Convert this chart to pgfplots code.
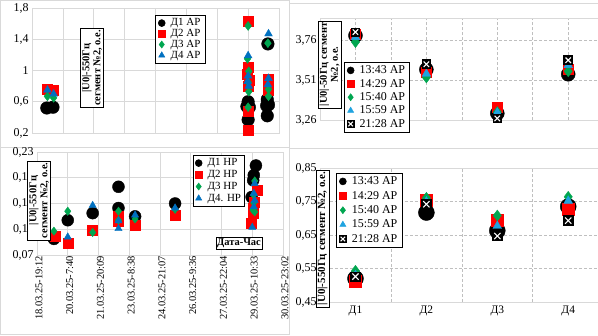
\documentclass[border=0pt]{standalone}
\usepackage{fontspec}
\setmainfont{Liberation Serif}
\usepackage{pgfplots}
\pgfplotsset{compat=1.18}

\definecolor{mred}{HTML}{FF0000}
\definecolor{mgreen}{HTML}{00A650}
\definecolor{mblue}{HTML}{0070C0}
\definecolor{lblue}{HTML}{1FA3E0}
\definecolor{gridc}{HTML}{D9D9D9}
\definecolor{gridd}{HTML}{BFBFBF}

\pgfdeclareplotmark{sqx}{%
  \pgfpathrectangle{\pgfpoint{-\pgfplotmarksize}{-\pgfplotmarksize}}{\pgfpoint{2\pgfplotmarksize}{2\pgfplotmarksize}}%
  \pgfsetfillcolor{black}\pgfsetstrokecolor{black}\pgfusepathqfillstroke
  \pgfsetstrokecolor{white}\pgfsetlinewidth{1.1pt}%
  \pgfpathmoveto{\pgfpoint{-0.65\pgfplotmarksize}{-0.65\pgfplotmarksize}}%
  \pgfpathlineto{\pgfpoint{0.65\pgfplotmarksize}{0.65\pgfplotmarksize}}%
  \pgfpathmoveto{\pgfpoint{-0.65\pgfplotmarksize}{0.65\pgfplotmarksize}}%
  \pgfpathlineto{\pgfpoint{0.65\pgfplotmarksize}{-0.65\pgfplotmarksize}}%
  \pgfusepathqstroke
}

\pgfplotsset{
  common/.style={
    scale only axis, anchor=south west,
    axis line style={draw=gridc},
    tick style={draw=none},
    /pgf/number format/use comma,
    /pgf/number format/assume math mode=true,
    yticklabel style={font=\fontsize{12}{12}\selectfont},
    legend cell align=left,
    legend style={draw=black, line width=0.5pt, fill=white, anchor=north west,
      font=\fontsize{11}{11}\selectfont, inner xsep=3pt, inner ysep=2pt, row sep=-1pt,
      nodes={inner sep=1.5pt},
      /tikz/every odd column/.append style={column sep=4bp}},
    legend image post style={mark size=3.5bp},
  },
  pD1/.style={only marks, mark=*, mark options={fill=black, draw=black}},
  pD2/.style={only marks, mark=square*, mark options={fill=mred, draw=mred}},
  pD3/.style={only marks, mark=diamond*, mark options={fill=mgreen, draw=mgreen}},
  pD4/.style={only marks, mark=triangle*, mark options={fill=mblue, draw=mblue}},
  pD4l/.style={only marks, mark=triangle*, mark options={fill=lblue, draw=lblue}},
  pX/.style={only marks, mark=sqx},
}

\begin{document}
\begin{tikzpicture}[x=1bp,y=1bp]
\useasboundingbox (0,0) rectangle (598,335);
\draw[gridc] (0.5,188) rectangle (289,334.5);
\draw[gridc] (0.5,0.5) rectangle (289,188);
\draw[gridc] (289,332.3) -- (598,332.3);
\draw[gridc] (289,187) -- (598,187);

% ---------- top left ----------
\begin{axis}[common, at={(32bp,202bp)}, width=247bp, height=125bp,
  xmin=0, xmax=8, ymin=0.2, ymax=1.8,
  xtick={0,...,8}, xticklabels={}, ytick={0.2,0.6,1,1.4,1.8},
  grid=major, grid style={draw=gridc, line width=0.6pt},
  legend style={at={(axis description cs:0.498,0.944)}}]
\addplot[pD1, mark size=6.3bp] coordinates {(0.48,0.52) (0.68,0.53) (7.00,0.60) (6.96,0.54) (7.04,0.53) (7.00,0.37) (7.64,1.34) (7.62,0.63) (7.66,0.56) (7.60,0.55) (7.62,0.42)};
\addlegendentry{Д1 АР}
\addplot[pD2, mark size=5bp] coordinates {(0.50,0.76) (0.70,0.75) (7.00,1.63) (7.00,1.04) (6.98,0.95) (7.02,0.88) (7.00,0.80) (7.00,0.48) (7.00,0.24) (7.65,0.89) (7.65,0.82) (7.65,0.75)};
\addlegendentry{Д2 АР}
\addplot[pD3, mark size=4.5bp] coordinates {(0.50,0.67) (0.70,0.65) (7.00,1.57) (6.98,1.15) (7.02,0.99) (7.00,0.85) (7.02,0.73) (7.00,0.53) (7.64,1.35) (7.66,0.76) (7.66,0.67)};
\addlegendentry{Д3 АР}
\addplot[pD4, mark size=4.5bp] coordinates {(0.50,0.75) (0.70,0.70) (7.00,1.19) (7.00,0.93) (6.98,0.86) (7.02,0.80) (7.66,1.47) (7.66,0.90) (7.64,0.82)};
\addlegendentry{Д4 АР}
\end{axis}

% ---------- bottom left ----------
\begin{axis}[common, at={(37bp,80bp)}, width=246bp, height=103bp,
  xmin=0, xmax=8, ymin=0.07, ymax=0.23,
  xtick={0,...,8},
  xticklabels={18.03.25-19:12,20.03.25-7:40,21.03.25-20:09,23.03.25-8:38,24.03.25-21:07,26.03.25-9:36,27.03.25-22:04,29.03.25-10:33,30.03.25-23:02},
  xticklabel style={rotate=90, anchor=east, font=\fontsize{10.5}{10.5}\selectfont, xshift=2.5bp, yshift=-2bp},
  ytick={0.07,0.11,0.15,0.19,0.23},
  yticklabel style={/pgf/number format/.cd, fixed, fixed zerofill, precision=2},
  grid=major, grid style={draw=gridc, line width=0.6pt},
  legend style={at={(axis description cs:0.634,0.971)}, row sep=0pt, inner xsep=2pt}]
\addplot[pD1, mark size=6bp] coordinates {(0.55,0.095) (1.00,0.124) (1.81,0.135) (2.65,0.176) (2.65,0.143) (3.19,0.130) (4.49,0.150) (7.12,0.209) (7.05,0.194) (7.03,0.186) (6.98,0.160)};
\addlegendentry{Д1 НР}
\addplot[pD2, mark size=5bp] coordinates {(0.60,0.099) (1.00,0.088) (1.81,0.109) (2.65,0.131) (2.65,0.122) (3.19,0.116) (4.49,0.132) (7.15,0.171) (7.05,0.152) (7.02,0.143) (7.02,0.135) (6.98,0.120)};
\addlegendentry{Д2 НР}
\addplot[pD3, mark size=4.2bp] coordinates {(0.55,0.107) (1.00,0.138) (1.81,0.105) (2.65,0.138) (2.65,0.124) (3.19,0.126) (4.49,0.141) (7.08,0.185) (7.05,0.163) (7.05,0.151) (7.02,0.140) (7.08,0.137)};
\addlegendentry{Д3 НР}
\addplot[pD4, mark size=4.2bp] coordinates {(1.00,0.098) (1.81,0.147) (2.65,0.123) (2.65,0.111) (3.19,0.132) (4.49,0.143) (7.08,0.181) (7.05,0.166) (7.08,0.155) (7.05,0.145) (7.00,0.113)};
\addlegendentry{Д4. НР}
\end{axis}

% ---------- top right ----------
\begin{axis}[common, at={(320bp,215bp)}, width=278bp, height=102bp,
  xmin=0.5, xmax=4.42, ymin=3.26, ymax=3.9,
  xtick={1,1.5,...,4}, xticklabels={}, ytick={3.26,3.51,3.76},
  yticklabel style={/pgf/number format/.cd, fixed, fixed zerofill, precision=2},
  grid=major, grid style={draw=gridd, densely dashed, line width=0.6pt},
  legend style={at={(axis description cs:0.086,0.569)}, font=\fontsize{12}{12}\selectfont, row sep=1pt}]
\addplot[pD1, mark size=7bp] coordinates {(1,3.79) (2,3.577) (3,3.302) (4,3.547)};
\addlegendentry{13:43 АР}
\addplot[pD2, mark size=5bp] coordinates {(1,3.797) (2,3.562) (3,3.343) (4,3.58)};
\addlegendentry{14:29 АР}
\addplot[pD3, mark size=5.5bp] coordinates {(1,3.749) (2,3.527) (3,3.31) (4,3.566)};
\addlegendentry{15:40 АР}
\addplot[pD4l, mark size=5bp] coordinates {(1,3.78) (2,3.55) (3,3.306) (4,3.604)};
\addlegendentry{15:59 АР}
\addplot[pX, mark size=4.2bp] coordinates {(1,3.812) (2,3.61) (3,3.27) (4,3.635)};
\addlegendentry{21:28 АР}
\end{axis}

% ---------- bottom right ----------
\begin{axis}[common, at={(320bp,33bp)}, width=278bp, height=134bp,
  xmin=0.5, xmax=4.42, ymin=0.45, ymax=0.85,
  xtick={1,2,3,4}, xticklabels={Д1,Д2,Д3,Д4},
  xticklabel style={font=\fontsize{11.5}{11.5}\selectfont},
  minor xtick={1.5,2.5,3.5},
  ytick={0.45,0.55,0.65,0.75,0.85},
  yticklabel style={/pgf/number format/.cd, fixed, fixed zerofill, precision=2},
  ymajorgrids, xminorgrids,
  major grid style={draw=gridd, densely dashed, line width=0.6pt},
  minor grid style={draw=gridd, densely dashed, line width=0.6pt},
  legend style={at={(axis description cs:0.058,0.963)}, font=\fontsize{12}{12}\selectfont, row sep=2pt}]
\addplot[pD1, mark size=8bp] coordinates {(1,0.52) (2,0.717) (3,0.663) (4,0.735)};
\addlegendentry{13:43 АР}
\addplot[pD2, mark size=6bp] coordinates {(1,0.511) (2,0.754) (3,0.693) (4,0.727)};
\addlegendentry{14:29 АР}
\addplot[pD3, mark size=5.5bp] coordinates {(1,0.543) (2,0.761) (3,0.708) (4,0.764)};
\addlegendentry{15:40 АР}
\addplot[pD4l, mark size=5bp] coordinates {(1,0.53) (2,0.75) (3,0.677) (4,0.752)};
\addlegendentry{15:59 АР}
\addplot[pX, mark size=4.8bp] coordinates {(1,0.526) (2,0.742) (3,0.647) (4,0.693)};
\addlegendentry{21:28 АР}
\end{axis}

% ---------- label boxes ----------
\node[draw=black, fill=white, rotate=90, align=center, inner sep=1.5pt,
  font=\bfseries\fontsize{10.5}{11}\selectfont] at (92,267) {|U0|-550Гц\\сегмент №2, о.е.};
\node[draw=black, fill=white, rotate=90, align=center, inner sep=1.5pt,
  font=\bfseries\fontsize{10.5}{11}\selectfont] at (39,134.5) {|U0|-550Гц\\сегмент №2, о.е.};
\node[draw=black, fill=white, rotate=90, align=center, inner sep=1.5pt,
  font=\bfseries\fontsize{10.5}{11}\selectfont] at (329.5,270.5) {|U0|-50Гц сегмент\\№2, о.е.};
\node[draw=black, fill=white, rotate=90, align=center, inner sep=1.5pt,
  font=\bfseries\fontsize{11}{11}\selectfont] at (322.5,96.5) {|U0|-550Гц сегмент №2, о.е.};
\node[draw=black, fill=white, inner sep=1.2pt,
  font=\bfseries\fontsize{10.5}{10.5}\selectfont] at (239,92) {Дата-Час};
\end{tikzpicture}
\end{document}
